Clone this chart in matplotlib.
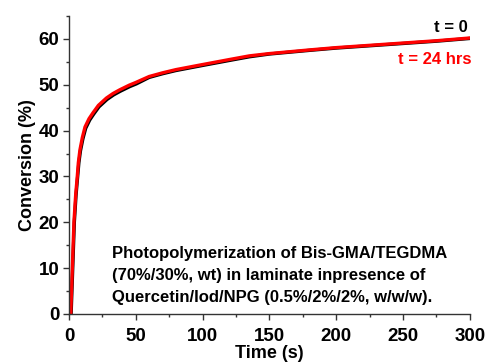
import matplotlib
matplotlib.use('Agg')
import matplotlib.pyplot as plt

plt.rcParams['font.family'] = ['Liberation Sans', 'DejaVu Sans']
plt.rcParams['font.weight'] = 'bold'

# Conversão vs tempo
t_red = [1.3, 2.5, 3.7, 5, 6.2, 7, 8.2, 10, 12, 15, 18, 22, 28, 33, 38, 45, 50, 60, 70,
         80, 98, 120, 135, 150, 180, 200, 225, 250, 275, 300]
conv_red = [0, 10, 20, 26, 30, 33, 35.8, 38.5, 40.8, 42.6, 43.9, 45.5, 47.1, 48.1, 48.9,
            49.9, 50.5, 51.8, 52.6, 53.3, 54.3, 55.5, 56.3, 56.8, 57.6, 58.1, 58.6, 59.1,
            59.6, 60.2]
t_black = [1.6, 2.8, 4.0, 5.3, 6.5, 7.4, 8.6, 10.4, 12.5, 15.5, 18.5, 22.5, 28.5, 33.5,
           38.5, 45.5, 50.5, 60, 70, 80, 98, 120, 135, 150, 180, 200, 225, 250, 275, 300]
conv_black = [0, 10, 20, 26, 30, 33, 35.6, 38.2, 40.5, 42.3, 43.6, 45.2, 46.8, 47.8, 48.6,
              49.6, 50.2, 51.6, 52.4, 53.1, 54.1, 55.3, 56.1, 56.7, 57.5, 58.0, 58.5, 59.0,
              59.5, 60.1]

xticks = [0, 50, 100, 150, 200, 250, 300]
yticks = [0, 10, 20, 30, 40, 50, 60]

fig = plt.figure(figsize=(4.91, 3.63), dpi=100)
ax = fig.add_axes([0.1405, 0.135, 0.8165, 0.821])

ax.plot(t_black, conv_black, color='black', linewidth=2.4)
ax.plot(t_red, conv_red, color='#ff0000', linewidth=2.4)

ax.set_xlim(0, 300)
ax.set_ylim(0, 65)
ax.set_xticks(xticks, [str(v) for v in xticks], fontsize=13.5, fontweight='bold')
ax.set_yticks(yticks, [str(v) for v in yticks], fontsize=13.5, fontweight='bold')
ax.set_xticks([v + 25 for v in xticks[:-1]], minor=True)
ax.set_yticks([v + 5 for v in yticks], minor=True)

for s in ['top', 'right']:
    ax.spines[s].set_visible(False)
for s in ['left', 'bottom']:
    ax.spines[s].set_linewidth(1.0)
    ax.spines[s].set_color('#333333')

ax.tick_params(which='major', direction='out', length=4, width=1, pad=3, color='#333333')
ax.tick_params(which='minor', direction='out', length=2.5, width=1, color='#333333')
ax.tick_params(axis='x', which='major', pad=6)

ax.set_xlabel('Time (s)', fontsize=13, fontweight='bold', labelpad=0)
ax.set_ylabel('Conversion (%)', fontsize=13, fontweight='bold', labelpad=2)

ax.text(0.995, 0.96, 't = 0', transform=ax.transAxes, ha='right', va='center',
        fontsize=12, fontweight='bold', color='black')
ax.text(1.005, 0.855, 't = 24 hrs', transform=ax.transAxes, ha='right', va='center',
        fontsize=12, fontweight='bold', color='#ff0000')

ax.text(0.107, 0.13, 'Photopolymerization of Bis-GMA/TEGDMA\n'
        '(70%/30%, wt) in laminate inpresence of\n'
        'Quercetin/Iod/NPG (0.5%/2%/2%, w/w/w).',
        transform=ax.transAxes, ha='left', va='center', fontsize=12,
        fontweight='bold', linespacing=1.57)

fig.savefig('out.png', dpi=100)
